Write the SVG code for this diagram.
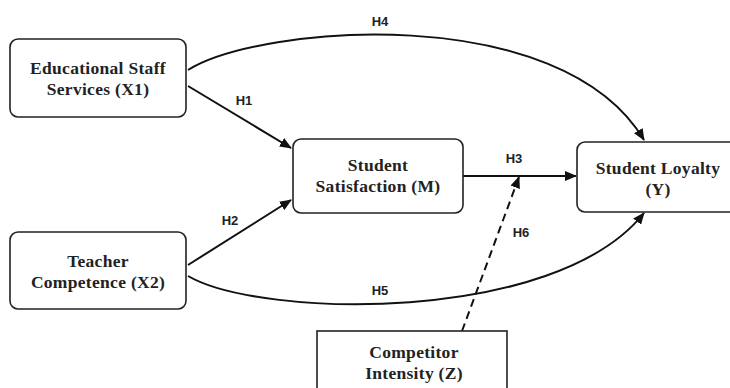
<svg xmlns="http://www.w3.org/2000/svg" width="730" height="388" viewBox="0 0 730 388">
<style>
.box{fill:#fff;stroke:#222;stroke-width:1.6}
.nt{font-family:"Liberation Serif","Times New Roman",serif;font-weight:bold;font-size:17.5px;letter-spacing:0.3px;fill:#222;text-anchor:middle}
.lb{font-family:"Liberation Sans",Arial,sans-serif;font-weight:bold;font-size:13px;fill:#222;text-anchor:middle}
.c{fill:none;stroke:#111;stroke-width:2}
.d{stroke-dasharray:8,5}
</style>
<defs>
<marker id="ah" markerUnits="userSpaceOnUse" markerWidth="12" markerHeight="10" refX="11" refY="5" orient="auto">
<path d="M0,0 L12,5 L0,10 Z" fill="#111"/>
</marker>
</defs>
<rect width="730" height="388" fill="#fff"/>
<g id="connectors">
<path class="c" d="M188,86 L291,148" marker-end="url(#ah)"/>
<path class="c" d="M188,265 L291,200" marker-end="url(#ah)"/>
<path class="c" d="M188,70 C260,25 560,0 644,140" marker-end="url(#ah)"/>
<path class="c" d="M188,276 C260,318 555,325 644,213" marker-end="url(#ah)"/>
<path class="c" d="M463,176 L576,176" marker-end="url(#ah)"/>
<path class="c d" d="M462,331 L519,177" marker-end="url(#ah)"/>
<text class="lb" x="244" y="105">H1</text>
<text class="lb" x="230" y="225">H2</text>
<text class="lb" x="514" y="163">H3</text>
<text class="lb" x="380" y="26">H4</text>
<text class="lb" x="380" y="295">H5</text>
<text class="lb" x="521" y="237">H6</text>
</g>
<g id="x1">
<rect class="box" x="10" y="39" width="176" height="78" rx="8"/>
<text class="nt" x="98" y="74">Educational Staff</text>
<text class="nt" x="98" y="95">Services (X1)</text>
</g>
<g id="x2">
<rect class="box" x="10" y="232" width="176" height="77" rx="8"/>
<text class="nt" x="98" y="267">Teacher</text>
<text class="nt" x="98" y="288">Competence (X2)</text>
</g>
<g id="m">
<rect class="box" x="293" y="139" width="170" height="74" rx="8"/>
<text class="nt" x="378" y="171">Student</text>
<text class="nt" x="378" y="192">Satisfaction (M)</text>
</g>
<g id="y">
<rect class="box" x="577" y="142" width="163" height="70" rx="8"/>
<text class="nt" x="658" y="174">Student Loyalty</text>
<text class="nt" x="658" y="195">(Y)</text>
</g>
<g id="z">
<rect class="box" x="317" y="331" width="190" height="70"/>
<text class="nt" x="414" y="358">Competitor</text>
<text class="nt" x="414" y="379">Intensity (Z)</text>
</g>
</svg>
